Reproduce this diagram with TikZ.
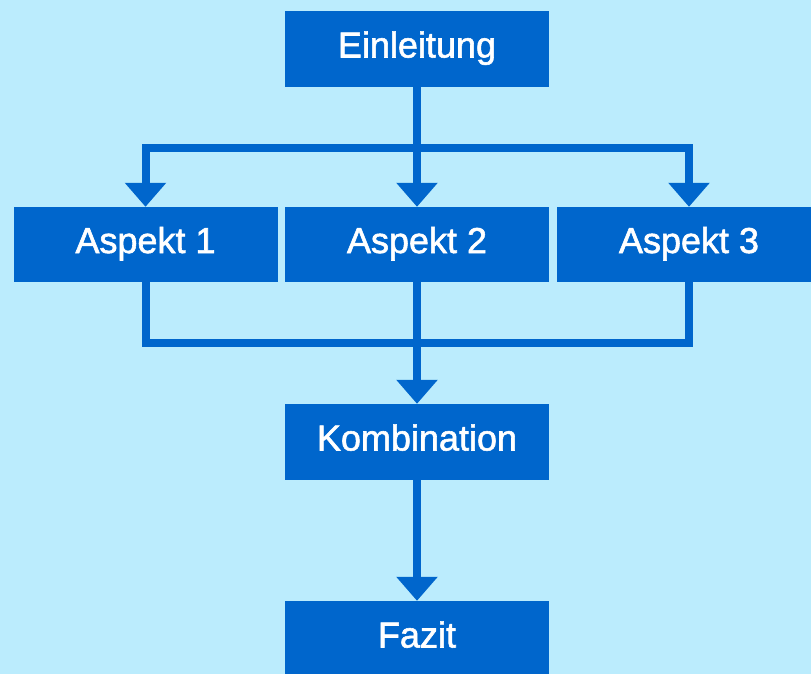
\documentclass[tikz,border=0pt]{standalone}
\usepackage{fontspec}
\setmainfont{Liberation Sans}
\newfontfamily\boxfont{Liberation Sans}[FakeBold=1.6]
\usetikzlibrary{arrows.meta}
\definecolor{bgblue}{RGB}{187,236,253}
\definecolor{boxblue}{RGB}{0,102,204}
\tikzset{
  box/.style={rectangle, fill=boxblue, draw=none, inner sep=0pt,
    minimum width=264pt, minimum height=76pt, text=white,
    text height=25pt, text depth=8pt,
    font=\boxfont\fontsize{36}{40}\selectfont},
  conn/.style={draw=boxblue, line width=8pt},
  arr/.style={conn, -{Triangle[width=40pt,length=24pt]}}
}
\begin{document}
\begin{tikzpicture}[x=1pt,y=-1pt]
\fill[bgblue] (0,0) rectangle (811,674);
\useasboundingbox (0,0) rectangle (811,674);
\clip (0,0) rectangle (811,674);
\node[box] (ein) at (417,49) {Einleitung};
\node[box, minimum height=75pt] (a1) at (145.5,244.5) {Aspekt 1};
\node[box, minimum height=75pt] (a2) at (417,244.5) {Aspekt 2};
\node[box, minimum height=75pt] (a3) at (689,244.5) {Aspekt 3};
\node[box] (komb) at (417,442) {Kombination};
\node[box] (faz) at (417,639) {Fazit};
\coordinate (top) at (417,148);
\coordinate (bot) at (417,343);
\draw[arr] (ein.south) -- (a2.north);
\draw[arr] (top) -| (a1.north);
\draw[arr] (top) -| (a3.north);
\draw[conn] (a1.south) |- (bot) -| (a3.south);
\draw[conn] (a2.south) -- (bot);
\draw[arr] (bot) -- (komb.north);
\draw[arr] (komb.south) -- (faz.north);
\end{tikzpicture}
\end{document}
